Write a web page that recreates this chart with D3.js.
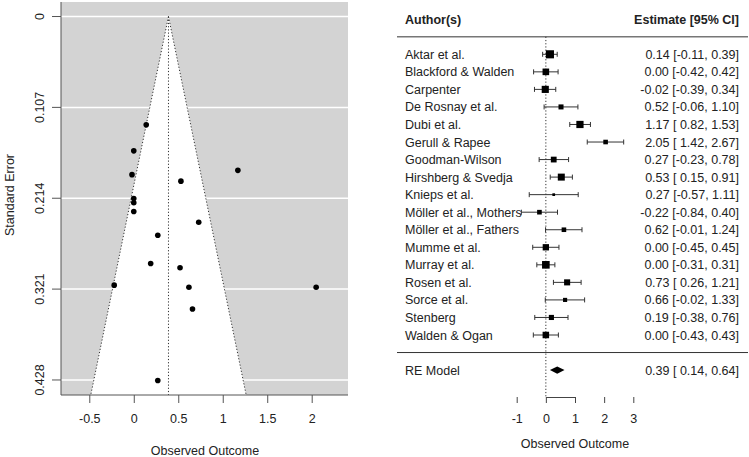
<!DOCTYPE html>
<html>
<head>
<meta charset="utf-8">
<script src="https://cdn.jsdelivr.net/npm/d3@7"></script>
<style>
  html, body { margin: 0; padding: 0; background: #fff; }
  svg { display: block; font-family: "Liberation Sans", Arial, Helvetica, sans-serif; }
  text { fill: #222; }
</style>
</head>
<body>
<svg id="chart" width="749" height="457"></svg>
<script>
// ---------- data ----------
const studies = ["Aktar et al.", "Blackford & Walden", "Carpenter", "De Rosnay et al.", "Dubi et al.",
  "Gerull & Rapee", "Goodman-Wilson", "Hirshberg & Svedja", "Knieps et al.", "Möller et al., Mothers",
  "Möller et al., Fathers", "Mumme et al.", "Murray et al.", "Rosen et al.", "Sorce et al.",
  "Stenberg", "Walden & Ogan"];
const estimates = [0.14, 0.00, -0.02, 0.52, 1.17, 2.05, 0.27, 0.53, 0.27, -0.22, 0.62, 0.00, 0.00, 0.73, 0.66, 0.19, 0.00];
const ciLower   = [-0.11, -0.42, -0.39, -0.06, 0.82, 1.42, -0.23, 0.15, -0.57, -0.84, -0.01, -0.45, -0.31, 0.26, -0.02, -0.38, -0.43];
const ciUpper   = [0.39, 0.42, 0.34, 1.10, 1.53, 2.67, 0.78, 0.91, 1.11, 0.40, 1.24, 0.45, 0.31, 1.21, 1.33, 0.76, 0.43];
const reModel = { label: "RE Model", est: 0.39, lb: 0.14, ub: 0.64 };
const funnelXTicks = [-0.5, 0, 0.5, 1, 1.5, 2];
const funnelYTicks = [0, 0.107, 0.214, 0.321, 0.428];
const forestXTicks = [-1, 0, 1, 2, 3];
const tau2 = 0.2; // between-study variance used for weights (square sizes)

// standard errors derived from the 95% CIs
const se = ciLower.map((l, i) => (ciUpper[i] - l) / (2 * 1.96));

const svg = d3.select("#chart");
const FS = 12.5;
const TXT = "#222";

// ================= FUNNEL PLOT =================
const fx = d3.scaleLinear().domain([-0.818, 2.408]).range([61, 348]);
const fy = d3.scaleLinear().domain([-0.0171, 0.4457]).range([2, 395]);
const gF = svg.append("g");

gF.append("rect").attr("x", fx.range()[0]).attr("y", fy.range()[0])
  .attr("width", fx.range()[1] - fx.range()[0]).attr("height", fy.range()[1] - fy.range()[0])
  .attr("fill", "#d3d3d3");

gF.selectAll("line.grid").data(funnelYTicks).join("line")
  .attr("x1", fx.range()[0]).attr("x2", fx.range()[1])
  .attr("y1", d => fy(d)).attr("y2", d => fy(d))
  .attr("stroke", "#fff").attr("stroke-width", 1.5);

const seBottom = fy.domain()[1];
const center = reModel.est;
gF.append("path")
  .attr("d", d3.line()([
    [fx(center), fy(0)],
    [fx(center - 1.96 * seBottom), fy(seBottom)],
    [fx(center + 1.96 * seBottom), fy(seBottom)]
  ]) + "Z")
  .attr("fill", "#fff");

// funnel edges
[-1, 1].forEach(s => {
  gF.append("line")
    .attr("x1", fx(center)).attr("y1", fy(0))
    .attr("x2", fx(center + s * 1.96 * seBottom)).attr("y2", fy(seBottom))
    .attr("stroke", "#333").attr("stroke-width", 1).attr("stroke-dasharray", "1.2,2");
});
gF.append("line")
  .attr("x1", fx(center)).attr("x2", fx(center))
  .attr("y1", fy(0)).attr("y2", fy(seBottom))
  .attr("stroke", "#333").attr("stroke-width", 1).attr("stroke-dasharray", "1.2,2");

// points
gF.selectAll("circle.pt").data(estimates).join("circle")
  .attr("cx", d => fx(d)).attr("cy", (d, i) => fy(se[i])).attr("r", 2.8).attr("fill", "#000");

// axes (L box)
gF.append("line").attr("x1", 61).attr("x2", 61).attr("y1", fy.range()[0]).attr("y2", fy.range()[1])
  .attr("stroke", "#555").attr("stroke-width", 1);
gF.append("line").attr("x1", 61).attr("x2", fx.range()[1]).attr("y1", fy.range()[1]).attr("y2", fy.range()[1])
  .attr("stroke", "#555").attr("stroke-width", 1);

const xAxisF = d3.axisBottom(fx).tickValues(funnelXTicks).tickFormat(d => String(d)).tickSize(8).tickPadding(11);
const gxF = gF.append("g").attr("transform", `translate(0,${fy.range()[1]})`).call(xAxisF);
gxF.select(".domain").remove();
gxF.selectAll(".tick line").attr("stroke", "#555");
gxF.selectAll(".tick text").attr("font-size", FS).attr("fill", TXT).attr("font-family", null);

gF.selectAll("line.ytick").data(funnelYTicks).join("line")
  .attr("x1", 52).attr("x2", 61).attr("y1", d => fy(d)).attr("y2", d => fy(d)).attr("stroke", "#555");
gF.selectAll("text.ylab").data(funnelYTicks).join("text")
  .attr("transform", d => `translate(44,${fy(d)}) rotate(-90)`)
  .attr("text-anchor", "middle").attr("font-size", FS).attr("fill", TXT)
  .text(d => String(d));

gF.append("text").attr("x", (fx.range()[0] + fx.range()[1]) / 2 + 0.5).attr("y", 454.5)
  .attr("text-anchor", "middle").attr("font-size", FS).attr("fill", TXT).text("Observed Outcome");
gF.append("text").attr("transform", "translate(13.5,195) rotate(-90)")
  .attr("text-anchor", "middle").attr("font-size", FS).attr("fill", TXT).text("Standard Error");

// ================= FOREST PLOT =================
const k = studies.length;
const rx = d3.scaleLinear().domain([0, 1]).range([545.85, 575.0]);
const ry = d3.scaleLinear().domain([k, 1]).range([54.3, 335]);
const gR = svg.append("g");
const fmt = v => v.toFixed(2);
const fmtLb = v => { const s = fmt(v); return s.length < 5 ? " " + s : s; };

// header
gR.append("text").attr("x", 405).attr("y", ry(k + 2) + 4.5).attr("font-size", FS)
  .attr("font-weight", "bold").attr("fill", TXT).text("Author(s)");
gR.append("text").attr("x", 739).attr("y", ry(k + 2) + 4.5).attr("font-size", FS)
  .attr("font-weight", "bold").attr("fill", TXT).attr("text-anchor", "end").text("Estimate [95% CI]");
gR.append("line").attr("x1", 397).attr("x2", 748).attr("y1", ry(k + 1)).attr("y2", ry(k + 1))
  .attr("stroke", "#777").attr("stroke-width", 1.6);
gR.append("line").attr("x1", 397).attr("x2", 748).attr("y1", ry(0)).attr("y2", ry(0))
  .attr("stroke", "#333").attr("stroke-width", 1);

// reference line at 0
gR.append("line").attr("x1", rx(0)).attr("x2", rx(0)).attr("y1", ry(k + 1)).attr("y2", 397)
  .attr("stroke", "#333").attr("stroke-width", 1).attr("stroke-dasharray", "1.2,2");

// weights -> square sizes
const w = se.map(s => 1 / (s * s + tau2));
const wMin = d3.min(w), wMax = d3.max(w);
const cex = w.map(v => 0.5 + (v - wMin) / (wMax - wMin));

const rows = studies.map((s, i) => ({ s, i, row: k - i }));
const rowG = gR.selectAll("g.row").data(rows).join("g");
rowG.append("text").attr("x", 405).attr("y", d => ry(d.row) + 4.5).attr("font-size", FS).attr("fill", TXT)
  .text(d => d.s);
rowG.append("text").attr("x", 739).attr("y", d => ry(d.row) + 4.5).attr("font-size", FS).attr("fill", TXT)
  .attr("text-anchor", "end").style("white-space", "pre")
  .text(d => `${fmt(estimates[d.i])} [${fmtLb(ciLower[d.i])}, ${fmt(ciUpper[d.i])}]`);
rowG.append("line").attr("x1", d => rx(ciLower[d.i])).attr("x2", d => rx(ciUpper[d.i]))
  .attr("y1", d => ry(d.row)).attr("y2", d => ry(d.row)).attr("stroke", "#333").attr("stroke-width", 1);
rowG.append("line").attr("x1", d => rx(ciLower[d.i])).attr("x2", d => rx(ciLower[d.i]))
  .attr("y1", d => ry(d.row) - 2.5).attr("y2", d => ry(d.row) + 2.5).attr("stroke", "#333");
rowG.append("line").attr("x1", d => rx(ciUpper[d.i])).attr("x2", d => rx(ciUpper[d.i]))
  .attr("y1", d => ry(d.row) - 2.5).attr("y2", d => ry(d.row) + 2.5).attr("stroke", "#333");
rowG.append("rect")
  .attr("x", d => rx(estimates[d.i]) - 2.7 * cex[d.i]).attr("y", d => ry(d.row) - 2.7 * cex[d.i])
  .attr("width", d => 5.4 * cex[d.i]).attr("height", d => 5.4 * cex[d.i]).attr("fill", "#000");

// RE model
gR.append("text").attr("x", 405).attr("y", ry(-1) + 4.5).attr("font-size", FS).attr("fill", TXT).text(reModel.label);
gR.append("text").attr("x", 739).attr("y", ry(-1) + 4.5).attr("font-size", FS).attr("fill", TXT)
  .attr("text-anchor", "end").style("white-space", "pre")
  .text(`${fmt(reModel.est)} [${fmtLb(reModel.lb)}, ${fmt(reModel.ub)}]`);
gR.append("path")
  .attr("d", d3.line()([
    [rx(reModel.lb), ry(-1)], [rx(reModel.est), ry(-1) - 3.6],
    [rx(reModel.ub), ry(-1)], [rx(reModel.est), ry(-1) + 3.6]
  ]) + "Z")
  .attr("fill", "#000");

// forest x-axis
const xAxisR = d3.axisBottom(rx).tickValues(forestXTicks).tickFormat(d => String(d)).tickSize(6).tickPadding(11).tickSizeOuter(0);
const gxR = gR.append("g").attr("transform", "translate(0,397)").call(xAxisR);
gxR.select(".domain").attr("stroke", "#444");
gxR.selectAll(".tick line").attr("stroke", "#444");
gxR.selectAll(".tick text").attr("font-size", FS).attr("fill", TXT).attr("font-family", null);
gR.append("text").attr("x", rx(1)).attr("y", 447.5).attr("text-anchor", "middle")
  .attr("font-size", FS).attr("fill", TXT).text("Observed Outcome");
</script>
</body>
</html>
